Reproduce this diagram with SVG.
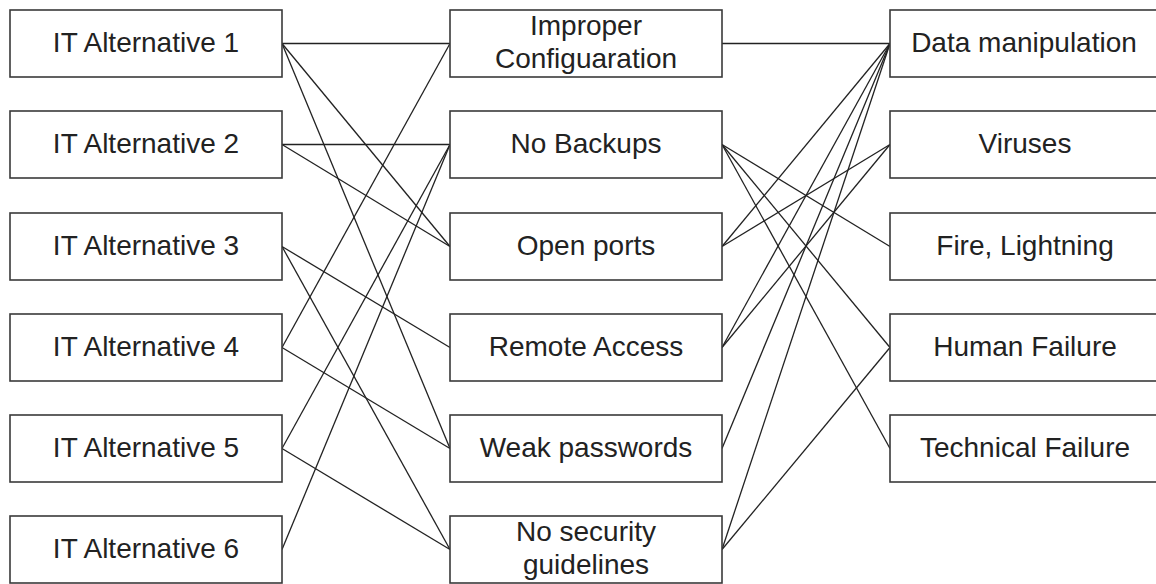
<svg xmlns="http://www.w3.org/2000/svg" width="1156" height="584" viewBox="0 0 1156 584">
  <style>
    .box { fill: #ffffff; stroke: #3a3a3a; stroke-width: 1.6; }
    .lbl { font-family: "Liberation Sans", Arial, sans-serif; font-size: 28px; fill: #222222; text-anchor: middle; }
    .link { stroke: #222222; stroke-width: 1.3; fill: none; }
  </style>
  <rect x="0" y="0" width="1156" height="584" fill="#ffffff"/>

  <!-- connectors: alternatives -> threats -> risks -->
  <g id="connectors" class="link">
    <!-- IT alternatives to threats -->
    <line x1="282" y1="43.5" x2="450" y2="43.5"/>
    <line x1="282" y1="43.5" x2="450" y2="246.5"/>
    <line x1="282" y1="43.5" x2="450" y2="448.5"/>
    <line x1="282" y1="144.5" x2="450" y2="144.5"/>
    <line x1="282" y1="144.5" x2="450" y2="246.5"/>
    <line x1="282" y1="246.5" x2="450" y2="347.5"/>
    <line x1="282" y1="246.5" x2="450" y2="549.5"/>
    <line x1="282" y1="347.5" x2="450" y2="43.5"/>
    <line x1="282" y1="347.5" x2="450" y2="448.5"/>
    <line x1="282" y1="448.5" x2="450" y2="144.5"/>
    <line x1="282" y1="448.5" x2="450" y2="549.5"/>
    <line x1="282" y1="549.5" x2="450" y2="144.5"/>
    <!-- threats to risks -->
    <line x1="722" y1="43.5" x2="890" y2="43.5"/>
    <line x1="722" y1="144.5" x2="890" y2="246.5"/>
    <line x1="722" y1="144.5" x2="890" y2="347.5"/>
    <line x1="722" y1="144.5" x2="890" y2="448.5"/>
    <line x1="722" y1="246.5" x2="890" y2="43.5"/>
    <line x1="722" y1="246.5" x2="890" y2="144.5"/>
    <line x1="722" y1="347.5" x2="890" y2="43.5"/>
    <line x1="722" y1="347.5" x2="890" y2="144.5"/>
    <line x1="722" y1="448.5" x2="890" y2="43.5"/>
    <line x1="722" y1="549.5" x2="890" y2="43.5"/>
    <line x1="722" y1="549.5" x2="890" y2="347.5"/>
  </g>

  <!-- IT alternatives -->
  <g id="alt1"><rect class="box" x="10" y="10" width="272" height="67"/><text class="lbl" x="146" y="52">IT Alternative 1</text></g>
  <g id="alt2"><rect class="box" x="10" y="111" width="272" height="67"/><text class="lbl" x="146" y="153">IT Alternative 2</text></g>
  <g id="alt3"><rect class="box" x="10" y="213" width="272" height="67"/><text class="lbl" x="146" y="255">IT Alternative 3</text></g>
  <g id="alt4"><rect class="box" x="10" y="314" width="272" height="67"/><text class="lbl" x="146" y="356">IT Alternative 4</text></g>
  <g id="alt5"><rect class="box" x="10" y="415" width="272" height="67"/><text class="lbl" x="146" y="457">IT Alternative 5</text></g>
  <g id="alt6"><rect class="box" x="10" y="516" width="272" height="67"/><text class="lbl" x="146" y="558">IT Alternative 6</text></g>

  <!-- threats -->
  <g id="threat1"><rect class="box" x="450" y="10" width="272" height="67"/><text class="lbl" x="586" y="35">Improper</text><text class="lbl" x="586" y="68">Configuaration</text></g>
  <g id="threat2"><rect class="box" x="450" y="111" width="272" height="67"/><text class="lbl" x="586" y="153">No Backups</text></g>
  <g id="threat3"><rect class="box" x="450" y="213" width="272" height="67"/><text class="lbl" x="586" y="255">Open ports</text></g>
  <g id="threat4"><rect class="box" x="450" y="314" width="272" height="67"/><text class="lbl" x="586" y="356">Remote Access</text></g>
  <g id="threat5"><rect class="box" x="450" y="415" width="272" height="67"/><text class="lbl" x="586" y="457">Weak passwords</text></g>
  <g id="threat6"><rect class="box" x="450" y="516" width="272" height="67"/><text class="lbl" x="586" y="541">No security</text><text class="lbl" x="586" y="574">guidelines</text></g>

  <!-- risks -->
  <g id="risk1"><rect class="box" x="890" y="10" width="272" height="67"/><text class="lbl" x="1024" y="52">Data manipulation</text></g>
  <g id="risk2"><rect class="box" x="890" y="111" width="272" height="67"/><text class="lbl" x="1025" y="153">Viruses</text></g>
  <g id="risk3"><rect class="box" x="890" y="213" width="272" height="67"/><text class="lbl" x="1025" y="255">Fire, Lightning</text></g>
  <g id="risk4"><rect class="box" x="890" y="314" width="272" height="67"/><text class="lbl" x="1025" y="356">Human Failure</text></g>
  <g id="risk5"><rect class="box" x="890" y="415" width="272" height="67"/><text class="lbl" x="1025" y="457">Technical Failure</text></g>
</svg>
